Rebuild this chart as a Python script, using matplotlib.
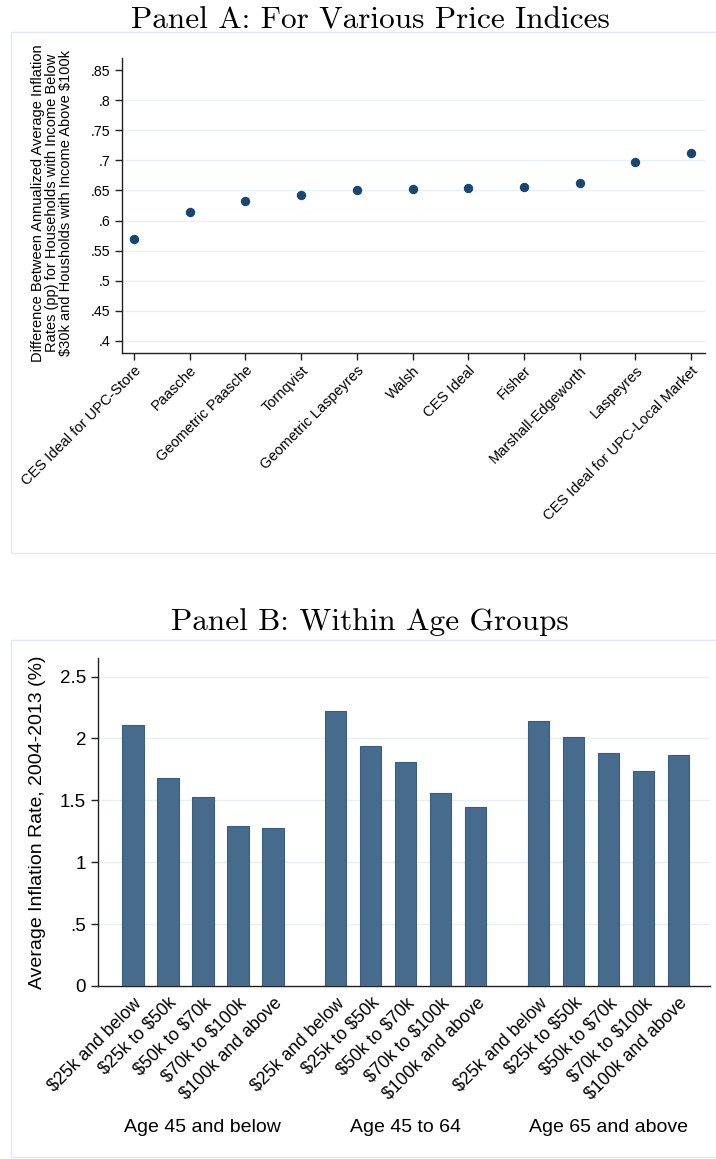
import matplotlib
matplotlib.use("Agg")
import matplotlib.pyplot as plt
from matplotlib.patches import Rectangle
import numpy as np

# ---------------- data ----------------
price_indices = ["CES Ideal for UPC-Store", "Paasche", "Geometric Paasche", "Tornqvist",
                 "Geometric Laspeyres", "Walsh", "CES Ideal", "Fisher",
                 "Marshall-Edgeworth", "Laspeyres", "CES Ideal for UPC-Local Market"]
inflation_gap = [0.570, 0.615, 0.632, 0.642, 0.651, 0.653, 0.654, 0.656, 0.662, 0.697, 0.712]
yticksA = [0.4, 0.45, 0.5, 0.55, 0.6, 0.65, 0.7, 0.75, 0.8, 0.85]
yticklabelsA = [".4", ".45", ".5", ".55", ".6", ".65", ".7", ".75", ".8", ".85"]

age_groups = ["Age 45 and below", "Age 45 to 64", "Age 65 and above"]
income_groups = ["$25k and below", "$25k to $50k", "$50k to $70k", "$70k to $100k", "$100k and above"]
rate_age45_below = [2.11, 1.68, 1.53, 1.29, 1.28]
rate_age45_64 = [2.22, 1.94, 1.81, 1.56, 1.45]
rate_age65_above = [2.14, 2.01, 1.88, 1.74, 1.87]
yticksB = [0, 0.5, 1, 1.5, 2, 2.5]
yticklabelsB = ["0", ".5", "1", "1.5", "2", "2.5"]

titleA = "Panel A: For Various Price Indices"
titleB = "Panel B: Within Age Groups"
ylabelA = ("Difference Between Annualized Average Inflation\n"
           "Rates (pp) for Households with Income Below\n"
           "$30k and Housholds with Income Above $100k")
ylabelB = "Average Inflation Rate, 2004-2013 (%)"

# ---------------- style ----------------
plt.rcParams['font.family'] = ['Liberation Sans', 'DejaVu Sans']
W, H = 716, 1159
DOT = '#1a476f'
BAR = '#476b8d'
GRID = '#e8f0f2'
BOX = '#e3eaee'
AXC = '#222222'

def esc(s):
    return s.replace('$', r'\$')

def rect(l, t, r, b):
    return [l / W, 1 - b / H, (r - l) / W, (b - t) / H]

fig = plt.figure(figsize=(W / 100, H / 100), dpi=100)
fig.patch.set_facecolor('white')

# outer graph-region boxes
for (l, t, r, b) in [(11, 32, 720, 553), (11, 640, 720, 1157)]:
    fig.patches.append(Rectangle((l / W, 1 - b / H), (r - l) / W, (b - t) / H,
                                 transform=fig.transFigure, fill=False,
                                 edgecolor=BOX, linewidth=1.0))

# titles
fig.text(370 / W, 1 - 28.5 / H, titleA, family='cmr10', fontsize=22.5,
         ha='center', va='baseline')
fig.text(370 / W, 1 - 630 / H, titleB, family='cmr10', fontsize=22.5,
         ha='center', va='baseline')

def style_axes(ax):
    for s in ['top', 'right']:
        ax.spines[s].set_visible(False)
    for s in ['left', 'bottom']:
        ax.spines[s].set_color(AXC)
        ax.spines[s].set_linewidth(1.0)
    ax.tick_params(axis='both', direction='out', length=5, width=1.0, color=AXC)
    ax.set_axisbelow(True)

# ---------------- Panel A ----------------
axA = fig.add_axes(rect(122, 58, 705, 353))
style_axes(axA)
xA = np.arange(len(price_indices))
axA.scatter(xA, inflation_gap, s=46, color=DOT, zorder=3, linewidths=0)
axA.set_xlim(-0.215, 10.25)
axA.set_ylim(0.38, 0.87)
axA.set_yticks(yticksA)
axA.set_yticklabels(yticklabelsA, fontsize=10.2)
axA.set_xticks(xA)
axA.set_xticklabels(price_indices, rotation=45, ha='right', rotation_mode='anchor',
                    fontsize=10.5)
axA.tick_params(axis='x', pad=2.5)
axA.grid(axis='y', color=GRID, linewidth=1.0)
axA.yaxis.get_gridlines()[-1].set_visible(False)
fig.text(52 / W, 1 - 203 / H, esc(ylabelA), rotation=90, ha='center', va='center',
         fontsize=10.5, linespacing=1.0, multialignment='center')

# ---------------- Panel B ----------------
axB = fig.add_axes(rect(98, 658, 710, 986))
style_axes(axB)
series = [rate_age45_below, rate_age45_64, rate_age65_above]
gap = 0.8
positions, heights, labels = [], [], []
for g, vals in enumerate(series):
    for i, v in enumerate(vals):
        positions.append(g * (len(income_groups) + gap) + i)
        heights.append(v)
        labels.append(esc(income_groups[i]))
axB.bar(positions, heights, width=0.61, color=BAR, edgecolor='#3b5c7c',
        linewidth=0.8, zorder=3)
axB.set_xlim(-1.0, 16.5)
axB.set_ylim(0, 2.65)
axB.set_yticks(yticksB)
axB.set_yticklabels(yticklabelsB, fontsize=13.5)
axB.set_xticks(positions)
axB.set_xticklabels(labels, rotation=45, ha='right', rotation_mode='anchor', fontsize=12.8)
axB.tick_params(axis='x', length=0, pad=6)
axB.grid(axis='y', color=GRID, linewidth=1.0)
axB.yaxis.get_gridlines()[0].set_visible(False)
axB.set_ylabel(ylabelB, fontsize=14, labelpad=10)

yfrac = (986 - 1128) / (986 - 658)
for g, name in enumerate(age_groups):
    xc = g * (len(income_groups) + gap) + (len(income_groups) - 1) / 2
    axB.text(xc, yfrac, name, transform=axB.get_xaxis_transform(), ha='center',
             va='center', fontsize=14)

fig.savefig("out.png", dpi=100)
